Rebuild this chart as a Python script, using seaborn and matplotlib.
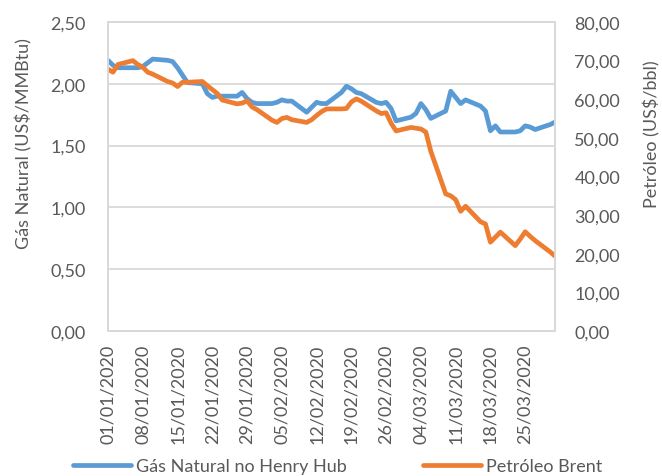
import matplotlib
matplotlib.use("Agg")
import matplotlib.pyplot as plt
import matplotlib.dates as mdates
import seaborn as sns
import pandas as pd

# Dias úteis de 01/01/2020 a 31/03/2020
datas = pd.bdate_range("2020-01-01", "2020-03-31")

gas_henry_hub = [
    2.19, 2.15, 2.13, 2.13, 2.13, 2.14, 2.17, 2.20, 2.19, 2.18, 2.13, 2.07,
    2.01, 2.00, 1.92, 1.89, 1.90, 1.90, 1.90, 1.93, 1.88, 1.85, 1.84,
    1.84, 1.85, 1.87, 1.86, 1.86, 1.77, 1.81, 1.85, 1.84, 1.84, 1.93, 1.98,
    1.96, 1.93, 1.92, 1.85, 1.84, 1.85, 1.80, 1.70,
    1.73, 1.76, 1.84, 1.79, 1.72, 1.78, 1.94, 1.89, 1.84, 1.87, 1.82, 1.78,
    1.62, 1.66, 1.61, 1.61, 1.62, 1.66, 1.65, 1.63, 1.67, 1.69,
]

petroleo_brent = [
    67.8, 67.0, 69.0, 70.0, 69.0, 68.3, 67.0, 66.5, 64.6, 64.2, 63.3, 64.4,
    64.4, 64.6, 63.5, 62.5, 61.5, 59.8, 58.8, 59.0, 59.6, 58.0, 57.3,
    54.6, 54.0, 55.0, 55.3, 54.7, 54.0, 54.7, 55.8, 56.8, 57.5, 57.5, 57.6,
    59.3, 60.1, 59.5, 57.0, 56.3, 56.5, 53.8, 51.8,
    52.7, 52.5, 52.3, 51.5, 46.5, 35.5, 35.0, 34.0, 31.0, 32.3, 28.3, 27.7,
    23.0, 24.3, 25.6, 22.1, 23.8, 25.7, 24.5, 23.4, 20.5, 19.4,
]

df = pd.DataFrame({"data": datas, "gas": gas_henry_hub, "brent": petroleo_brent})

azul = "#5B9BD5"
laranja = "#ED7D31"
cinza_texto = "#595959"
cinza_grade = "#D9D9D9"
fs = 13

sns.set_style("white")
plt.rcParams["font.family"] = ["Lato", "DejaVu Sans"]

fig = plt.figure(figsize=(6.62, 4.77), dpi=100)
ax = fig.add_axes([108 / 662, 1 - 332 / 477, 447 / 662, 309 / 477])
ax2 = ax.twinx()

sns.lineplot(data=df, x="data", y="gas", ax=ax, color=azul, linewidth=3.4,
             label="Gás Natural no Henry Hub", legend=False)
sns.lineplot(data=df, x="data", y="brent", ax=ax2, color=laranja, linewidth=3.4,
             label="Petróleo Brent", legend=False)

# Eixo esquerdo
ax.set_ylim(0, 2.5)
ax.set_yticks([0, 0.5, 1.0, 1.5, 2.0, 2.5])
ax.set_yticklabels([f"{v:.2f}".replace(".", ",") for v in ax.get_yticks()])
ax.set_ylabel("Gás Natural (US$/MMBtu)", fontsize=fs, color=cinza_texto)
ax.yaxis.set_label_coords(-0.17, 0.61)

# Eixo direito
ax2.set_ylim(0, 80)
ax2.set_yticks(range(0, 81, 10))
ax2.set_yticklabels([f"{v:.2f}".replace(".", ",") for v in ax2.get_yticks()])
ax2.set_ylabel("Petróleo (US$/bbl)", fontsize=fs, color=cinza_texto)
ax2.yaxis.set_label_coords(1.198, 0.64)

# Eixo x com datas semanais
ax.set_xlim(pd.Timestamp("2020-01-01"), pd.Timestamp("2020-03-31"))
ticks = pd.date_range("2020-01-01", "2020-03-25", freq="7D")
ax.set_xticks(ticks)
ax.xaxis.set_major_formatter(mdates.DateFormatter("%d/%m/%Y"))
ax.set_xlabel("")
ax.tick_params(axis="x", rotation=90, labelsize=fs, colors=cinza_texto, length=0, pad=9)
ax.tick_params(axis="y", labelsize=fs, colors=cinza_texto, length=0, pad=16)
ax2.tick_params(axis="y", labelsize=fs, colors=cinza_texto, length=0, pad=14)

ax.grid(axis="y", color=cinza_grade, linewidth=1.3)
ax.set_axisbelow(True)
for a in (ax, ax2):
    for s in a.spines.values():
        s.set_color(cinza_grade)
        s.set_linewidth(1.3)
ax2.grid(False)

# Legenda na parte de baixo
linhas = ax.get_lines() + ax2.get_lines()
fig.legend(linhas, ["Gás Natural no Henry Hub", "Petróleo Brent"],
           loc="lower center", bbox_to_anchor=(0.51, -0.03), ncol=2, frameon=False,
           fontsize=fs, handlelength=3.2, columnspacing=4.2, handletextpad=0.3,
           labelcolor=cinza_texto)

fig.savefig("out.png", dpi=100)
